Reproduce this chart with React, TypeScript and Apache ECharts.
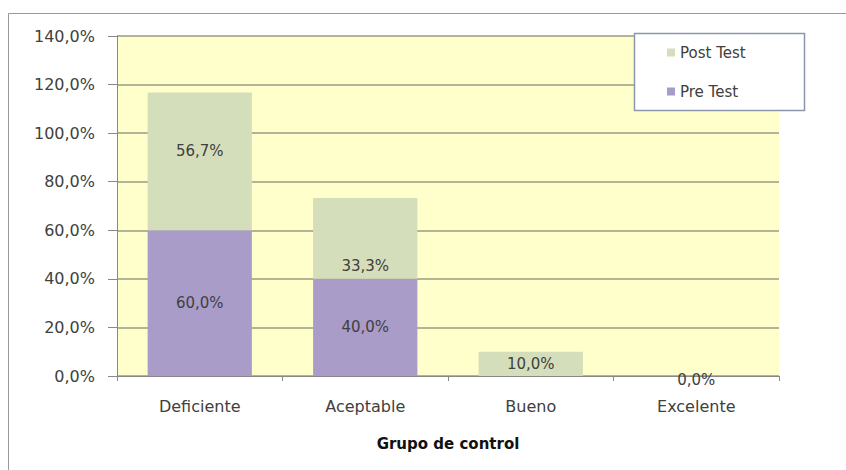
import React, { useEffect, useRef } from "react";
import * as echarts from "echarts";

const categories = ["Deficiente", "Aceptable", "Bueno", "Excelente"];
const preTest = [60.0, 40.0, 0, 0];
const postTest = [56.7, 33.3, 10.0, 0.0];
const yTicks = [0, 20, 40, 60, 80, 100, 120, 140];

const fmt = (v: number) => v.toFixed(1).replace(".", ",") + "%";

export default function App() {
  const ref = useRef<HTMLDivElement>(null);
  useEffect(() => {
    if (!ref.current) return;
    const chart = echarts.init(ref.current, null, { renderer: "svg" });
    const font = "'DejaVu Sans', 'Noto Sans', sans-serif";
    const labelColor = "#404040";
    const postOffsets = [[0, -10], [0, 28], [0, 0], [0, 4]];
    chart.setOption({
      animation: false,
      textStyle: { fontFamily: font },
      grid: { left: 117, right: 67, top: 36, bottom: 94, show: true, backgroundColor: "#FFFFCC", borderWidth: 0 },
      xAxis: {
        type: "category",
        data: categories,
        name: "Grupo de control",
        nameLocation: "middle",
        nameGap: 60,
        nameTextStyle: { fontSize: 15, fontWeight: "bold", color: "#111", fontFamily: font },
        axisLine: { lineStyle: { color: "#888" } },
        axisTick: { show: true, length: 5, lineStyle: { color: "#888" } },
        axisLabel: { fontSize: 16, color: labelColor, margin: 22, fontFamily: font },
      },
      yAxis: {
        type: "value",
        min: yTicks[0],
        max: yTicks[yTicks.length - 1],
        interval: 20,
        axisLine: { show: true, lineStyle: { color: "#888" } },
        axisTick: { show: true, length: 9, lineStyle: { color: "#888" } },
        axisLabel: { fontSize: 16, color: labelColor, margin: 22, formatter: (v: number) => fmt(v), fontFamily: font },
        splitLine: { lineStyle: { color: "#9a9a84", width: 1.5 } },
      },
      legend: {
        data: ["Post Test", "Pre Test"],
        orient: "vertical",
        left: 662,
        top: 40,
        itemWidth: 8,
        itemHeight: 8,
        itemGap: 24,
        icon: "rect",
        z: 20,
        textStyle: { fontSize: 15, color: labelColor, fontFamily: font },
      },
      graphic: [
        { type: "rect", shape: { x: 8.5, y: 13.5, width: 850, height: 470 }, style: { fill: "none", stroke: "#999", lineWidth: 1 }, z: -10 },
        { type: "rect", shape: { x: 634.5, y: 33.5, width: 170, height: 77 }, style: { fill: "#fff", stroke: "#8c96aa", lineWidth: 1.5 }, z: 10 },
      ],
      series: [
        {
          name: "Pre Test",
          type: "bar",
          stack: "total",
          barWidth: "63%",
          itemStyle: { color: "#A99CC9" },
          data: preTest.map((v) => ({
            value: v,
            label: { show: v > 0 },
          })),
          label: { position: "inside", fontSize: 15, color: labelColor, formatter: (p: any) => fmt(p.value), fontFamily: font },
        },
        {
          name: "Post Test",
          type: "bar",
          stack: "total",
          barWidth: "63%",
          itemStyle: { color: "#D5DEBA" },
          data: postTest.map((v, i) => ({
            value: v,
            label: { offset: postOffsets[i] },
          })),
          label: { show: true, position: "inside", fontSize: 15, color: labelColor, formatter: (p: any) => fmt(p.value), fontFamily: font },
        },
      ],
    });
    return () => chart.dispose();
  }, []);
  return <div ref={ref} style={{ position: "fixed", left: 0, top: 0, width: 846, height: 470, background: "#fff" }} />;
}
